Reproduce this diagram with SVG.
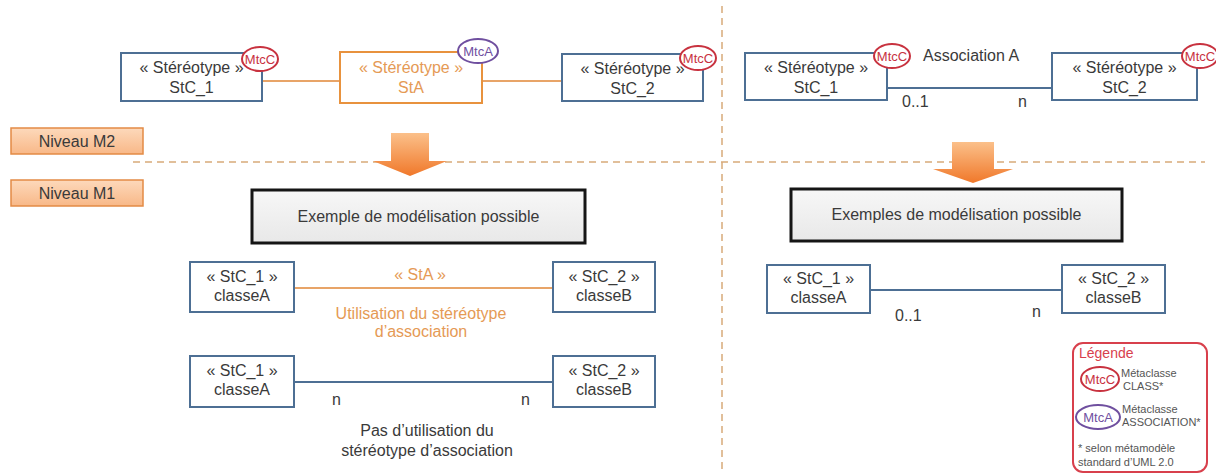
<svg xmlns="http://www.w3.org/2000/svg" width="1216" height="474" viewBox="0 0 1216 474">
<defs>
<linearGradient id="arrowGrad" x1="0" y1="0" x2="0" y2="1">
<stop offset="0" stop-color="#fbc08a"/>
<stop offset="1" stop-color="#f0782a"/>
</linearGradient>
<linearGradient id="nivGrad" x1="0" y1="0" x2="0" y2="1">
<stop offset="0" stop-color="#fdd9bb"/>
<stop offset="1" stop-color="#f8b888"/>
</linearGradient>
<linearGradient id="exGrad" x1="0" y1="0" x2="0" y2="1">
<stop offset="0" stop-color="#f7f7f7"/>
<stop offset="1" stop-color="#e8e8e8"/>
</linearGradient>
</defs>
<style>
text{font-family:"Liberation Sans",Arial,sans-serif;fill:#3a3a3a;}
.t16{font-size:16px;}
.mid{text-anchor:middle;}
.cls{fill:#fff;stroke:#4d6f94;stroke-width:2;}
.sta{fill:#fff;stroke:#e8923e;stroke-width:2;}
.org{fill:#e59a55;}
.mtcc{fill:#fff;stroke:#c8323f;stroke-width:2;}
.mtca{fill:#fff;stroke:#6f4f9f;stroke-width:2;}
.mtcct{font-size:13px;fill:#c8323f;}
.mtcat{font-size:13px;fill:#6f4f9f;}
.lo{stroke:#e8a468;stroke-width:2;fill:none;}
.lb{stroke:#4d6f94;stroke-width:2;fill:none;}
.dash{stroke:#d8aa7a;stroke-width:1.5;stroke-dasharray:7,5;fill:none;}
.niv{fill:url(#nivGrad);stroke:#e38b45;stroke-width:1.5;}
.ex{fill:url(#exGrad);stroke:#151515;stroke-width:3;}
.arr{fill:url(#arrowGrad);}
.leg{font-size:11px;fill:#555;}
</style>

<g id="separators">
<line class="dash" x1="722" y1="6" x2="722" y2="474"/>
<line class="dash" x1="133" y1="162" x2="1205" y2="162"/>
</g>

<g id="connectors">
<line class="lo" x1="262" y1="81" x2="340" y2="81"/>
<line class="lo" x1="482" y1="81" x2="562" y2="81"/>
<line class="lb" x1="887" y1="88" x2="1052" y2="88"/>
<line class="lo" x1="294" y1="288" x2="553" y2="288"/>
<line class="lb" x1="294" y1="382" x2="553" y2="382"/>
<line class="lb" x1="870" y1="290" x2="1062" y2="290"/>
</g>

<g id="m2-stc1">
<rect class="cls" x="121" y="53" width="141" height="48"/>
<text class="t16 mid" x="191.5" y="73">« Stéréotype »</text>
<text class="t16 mid" x="191.5" y="93">StC_1</text>
<ellipse class="mtcc" cx="260" cy="59" rx="18" ry="12"/>
<text class="mtcct mid" x="260" y="64">MtcC</text>
</g>

<g id="m2-sta">
<rect class="sta" x="340" y="52" width="142" height="51"/>
<text class="t16 mid org" x="411" y="73">« Stéréotype »</text>
<text class="t16 mid org" x="411" y="93">StA</text>
<ellipse class="mtca" cx="478" cy="51" rx="20" ry="12"/>
<text class="mtcat mid" x="478" y="56">MtcA</text>
</g>

<g id="m2-stc2">
<rect class="cls" x="562" y="54" width="141" height="47"/>
<text class="t16 mid" x="632.5" y="74">« Stéréotype »</text>
<text class="t16 mid" x="632.5" y="94">StC_2</text>
<ellipse class="mtcc" cx="698" cy="58" rx="18" ry="12"/>
<text class="mtcct mid" x="698" y="63">MtcC</text>
</g>

<g id="m2r-stc1">
<rect class="cls" x="745" y="53" width="142" height="47"/>
<text class="t16 mid" x="816" y="73">« Stéréotype »</text>
<text class="t16 mid" x="816" y="93">StC_1</text>
<ellipse class="mtcc" cx="892" cy="56" rx="18" ry="12"/>
<text class="mtcct mid" x="892" y="61">MtcC</text>
</g>
<text class="t16" x="923" y="61">Association A</text>
<text class="t16" x="902" y="107">0..1</text>
<text class="t16" x="1018" y="107">n</text>

<g id="m2r-stc2">
<rect class="cls" x="1052" y="53" width="145" height="47"/>
<text class="t16 mid" x="1124.5" y="73">« Stéréotype »</text>
<text class="t16 mid" x="1124.5" y="93">StC_2</text>
<ellipse class="mtcc" cx="1200" cy="56" rx="18" ry="12"/>
<text class="mtcct mid" x="1200" y="61">MtcC</text>
</g>

<g id="niveau-m2">
<rect class="niv" x="11" y="128" width="132" height="26"/>
<text class="t16 mid" x="77" y="147">Niveau M2</text>
</g>
<g id="niveau-m1">
<rect class="niv" x="11" y="180" width="132" height="26"/>
<text class="t16 mid" x="77" y="199">Niveau M1</text>
</g>

<g id="arrow-left">
<path class="arr" d="M391,133 H429 V161 H447 L410,176 L373,161 H391 Z"/>
</g>
<g id="arrow-right">
<path class="arr" d="M952,142 H994 V169 H1013 L973,183 L933,169 H952 Z"/>
</g>

<g id="ex-left">
<rect class="ex" x="252" y="190" width="333" height="53"/>
<text class="t16 mid" x="418.5" y="222">Exemple de modélisation possible</text>
</g>
<g id="ex-right">
<rect class="ex" x="791" y="189" width="331" height="52"/>
<text class="t16 mid" x="956.5" y="220">Exemples de modélisation possible</text>
</g>

<g id="m1a-classeA">
<rect class="cls" x="190" y="262" width="104" height="50"/>
<text class="t16 mid" x="242" y="282">« StC_1 »</text>
<text class="t16 mid" x="242" y="301">classeA</text>
</g>
<g id="m1a-classeB">
<rect class="cls" x="553" y="262" width="102" height="50"/>
<text class="t16 mid" x="604" y="282">« StC_2 »</text>
<text class="t16 mid" x="604" y="301">classeB</text>
</g>
<text class="t16 mid org" x="420" y="280">« StA »</text>
<text class="t16 mid org" x="421" y="319">Utilisation du stéréotype</text>
<text class="t16 mid org" x="421" y="337">d’association</text>

<g id="m1b-classeA">
<rect class="cls" x="190" y="356" width="104" height="51"/>
<text class="t16 mid" x="242" y="376">« StC_1 »</text>
<text class="t16 mid" x="242" y="395">classeA</text>
</g>
<g id="m1b-classeB">
<rect class="cls" x="553" y="356" width="102" height="51"/>
<text class="t16 mid" x="604" y="376">« StC_2 »</text>
<text class="t16 mid" x="604" y="395">classeB</text>
</g>
<text class="t16" x="332" y="405">n</text>
<text class="t16" x="521" y="405">n</text>
<text class="t16 mid" x="427" y="436">Pas d’utilisation du</text>
<text class="t16 mid" x="427" y="456">stéréotype d’association</text>

<g id="m1c-classeA">
<rect class="cls" x="767" y="265" width="103" height="48"/>
<text class="t16 mid" x="818.5" y="284">« StC_1 »</text>
<text class="t16 mid" x="818.5" y="303">classeA</text>
</g>
<g id="m1c-classeB">
<rect class="cls" x="1062" y="265" width="103" height="48"/>
<text class="t16 mid" x="1113.5" y="284">« StC_2 »</text>
<text class="t16 mid" x="1113.5" y="303">classeB</text>
</g>
<text class="t16" x="895" y="321">0..1</text>
<text class="t16" x="1032" y="317">n</text>

<g id="legend">
<rect x="1073" y="343" width="134" height="129" rx="10" ry="10" fill="#fff" stroke="#d8404c" stroke-width="2"/>
<text x="1079" y="358" style="font-size:14px;fill:#d8404c;">Légende</text>
<ellipse class="mtcc" cx="1100" cy="379" rx="19" ry="12"/>
<text class="mtcct mid" x="1100" y="384">MtcC</text>
<text class="leg" x="1121" y="377">Métaclasse</text>
<text class="leg" x="1123" y="390">CLASS*</text>
<ellipse class="mtca" cx="1098" cy="417" rx="22" ry="12"/>
<text class="mtcat mid" x="1098" y="422">MtcA</text>
<text class="leg" x="1122" y="413">Métaclasse</text>
<text class="leg" x="1122" y="426">ASSOCIATION*</text>
<text class="leg" x="1078" y="452">* selon métamodèle</text>
<text class="leg" x="1078" y="466">standard d’UML 2.0</text>
</g>
</svg>
